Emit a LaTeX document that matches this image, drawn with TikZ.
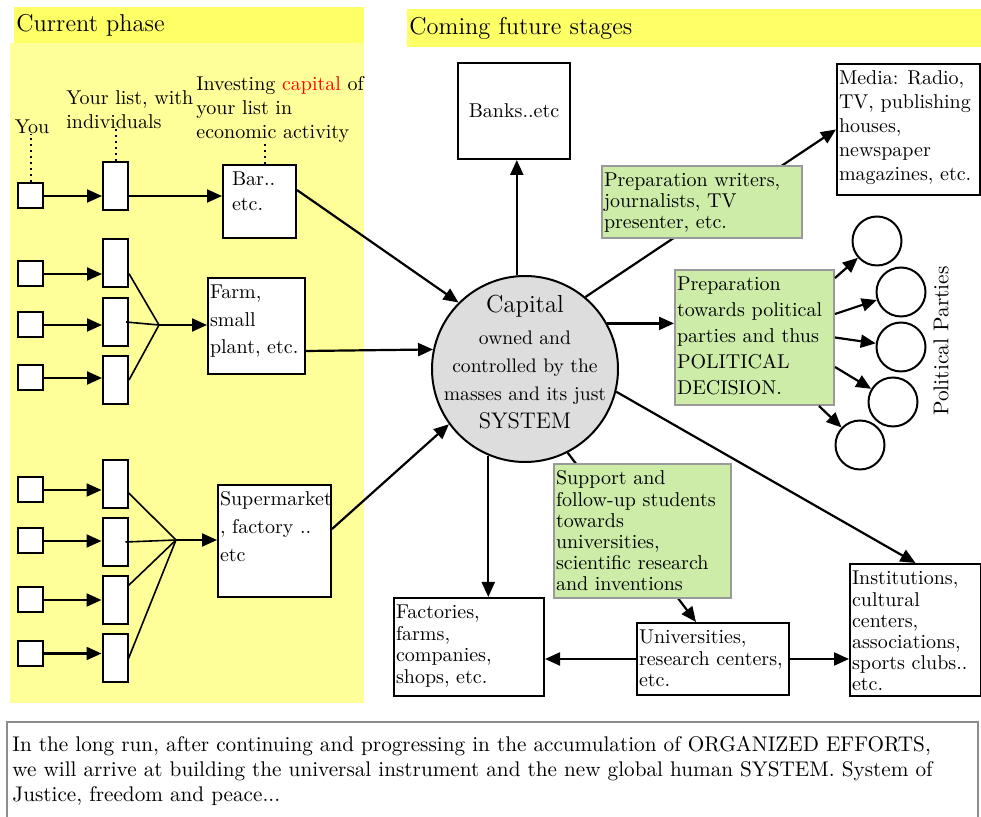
\documentclass[tikz,border=0pt]{standalone}
\usetikzlibrary{arrows.meta}

\definecolor{headyellow}{RGB}{255,255,102}
\definecolor{paleyellow}{RGB}{255,255,153}
\definecolor{capgray}{RGB}{221,221,221}
\definecolor{prepgreen}{RGB}{204,236,168}
\definecolor{prepedge}{RGB}{153,153,153}
\definecolor{notegray}{RGB}{140,140,140}

% text of a box: width, height, line distance, lines
\newcommand{\boxtext}[4]{\parbox[t][#2][t]{#1}{\fontsize{10}{#3}\selectfont\raggedright\rule{0pt}{8.5pt}#4}}

\tikzset{
  txt/.style={font=\fontsize{10}{12}\selectfont, inner sep=0pt},
  box/.style={draw, line width=1pt, fill=white, anchor=north west, inner xsep=1pt, inner ysep=2pt},
  prep/.style={box, draw=prepedge, fill=prepgreen},
  sq/.style={draw, line width=1pt, fill=white, minimum size=12.5pt, inner sep=0pt},
  slot/.style={draw, line width=1pt, fill=white, minimum width=12.5pt, minimum height=24pt, inner sep=0pt},
  party/.style={circle, draw, line width=1pt, minimum size=24.5pt, inner sep=0pt},
  arr/.style={-{Triangle[length=7.5pt,width=6.5pt]}, line width=1.1pt},
  fan/.style={line width=0.8pt},
  dotline/.style={dotted, line width=1pt},
  header/.style={fill=headyellow, anchor=north west, align=left, inner xsep=1pt, font=\fontsize{12.2}{14}\selectfont}
}

\begin{document}
\begin{tikzpicture}[x=0.5pt, y=-0.5pt]
  \useasboundingbox (0,0) rectangle (981,817);

  % phases
  \fill[paleyellow] (10,43) rectangle (364,703);
  \node[header, text width=173pt, minimum height=17pt] (nowhead) at (14,7) {Current phase};
  \node[header, text width=285pt, minimum height=19pt] (nexthead) at (407,9) {Coming future stages};

  % labels
  \node[txt] (you) at (32,127) {You};
  \node[txt, anchor=west, align=left] (list) at (66,110) {Your list, with\\individuals};
  \node[txt, anchor=west, align=left] (invest) at (196,110) {Investing \textcolor{red}{capital} of\\your list in\\economic activity};

  % current phase
  \node[sq] (s1) at (30.5,196) {};
  \node[slot] (r1) at (115.5,186) {};
  \node[box, inner xsep=4.5pt] (bar) at (222,164) {\boxtext{27.5pt}{32.5pt}{12.5pt}{Bar..\\etc.}};

  \node[sq] (s2a) at (30.5,274) {};
  \node[sq] (s2b) at (30.5,325) {};
  \node[sq] (s2c) at (30.5,378) {};
  \node[slot] (r2a) at (115.5,263.5) {};
  \node[slot] (r2b) at (115.5,322) {};
  \node[slot] (r2c) at (115.5,380) {};
  \node[box] (farm) at (207,277) {\boxtext{46.5pt}{44pt}{13.75pt}{Farm,\\small\\plant, etc.}};

  \node[sq] (s3a) at (30.5,490) {};
  \node[sq] (s3b) at (30.5,541) {};
  \node[sq] (s3c) at (30.5,600) {};
  \node[sq] (s3d) at (30.5,653.5) {};
  \node[slot] (r3a) at (115,484) {};
  \node[slot] (r3b) at (115,542) {};
  \node[slot] (r3c) at (115,600.5) {};
  \node[slot] (r3d) at (115,658.5) {};
  \node[box] (super) at (217,484) {\boxtext{54.5pt}{52pt}{14pt}{Supermarket\\, factory ..\\etc}};

  \draw[dotline] (s1.north) -- (s1.north |- you.south);
  \draw[dotline] (r1.north) -- (r1.north |- list.south);
  \draw[dotline] ([xshift=2.75pt]bar.north) -- ([xshift=2.75pt]bar.north |- invest.south);

  \draw[arr] (s1) -- (s1 -| r1.west);
  \draw[arr] (r1.east |- s1) -- (s1 -| bar.west);
  \draw[arr] (s2a) -- (s2a -| r2a.west);
  \draw[arr] (s2b) -- (s2b -| r2b.west);
  \draw[arr] (s2c) -- (s2c -| r2c.west);
  \draw[arr] (s3a) -- (s3a -| r3a.west);
  \draw[arr] (s3b) -- (s3b -| r3b.west);
  \draw[arr] (s3c) -- (s3c -| r3c.west);
  \draw[arr] (s3d) -- (s3d -| r3d.west);

  \coordinate (j2) at (159,325);
  \draw[fan] (r2a.-37) -- (j2);
  \draw[fan] ([xshift=-1.5pt]r2b.east) -- (j2);
  \draw[fan] (r2c.east) -- (j2);
  \draw[arr] (j2) -- (j2 -| farm.west);

  \coordinate (j3) at (176,540);
  \draw[fan] (r3a.-33) -- (j3);
  \draw[fan] ([xshift=-1.5pt]r3b.east) -- (j3);
  \draw[fan] (r3c.48) -- (j3);
  \draw[fan] (r3d.east) -- (j3);
  \draw[arr] (j3) -- (j3 -| super.west);

  % capital
  \node[circle, draw, line width=1pt, fill=capgray, minimum size=93pt, inner sep=0pt] (cap) at (525,369) {};
  \node[txt, align=center, font=\fontsize{9.8}{14}\selectfont] (captxt) at (525,362)
    {{\fontsize{12.3}{16}\selectfont Capital}\\[2pt]owned and\\controlled by the\\masses and its just\\{\fontsize{11.3}{14}\selectfont SYSTEM}};

  % coming stages
  \node[box, anchor=center, minimum width=56pt, minimum height=48pt, font=\fontsize{10}{12}\selectfont] (banks) at (514,111) {Banks..etc};
  \node[box] (media) at (836,63) {\boxtext{69.5pt}{61.5pt}{12pt}{Media: Radio,\\TV, publishing\\houses,\\newspaper\\magazines, etc.}};
  \node[prep] (gp) at (674,269) {\boxtext{77.5pt}{63.5pt}{13pt}{Preparation\\towards political\\parties and thus\\POLITICAL\\DECISION.}};
  \node[box] (fact) at (393,597) {\boxtext{73pt}{45pt}{10.75pt}{Factories,\\farms,\\companies,\\shops, etc.}};
  \node[box] (univ) at (636,622) {\boxtext{74pt}{32pt}{10.75pt}{Universities,\\research centers,\\etc.}};
  \node[box] (inst) at (849,563) {\boxtext{63.5pt}{62pt}{10.6pt}{Institutions,\\cultural\\centers,\\associations,\\sports clubs..\\etc.}};

  \node[party] (p1) at (877,241) {};
  \node[party] (p2) at (901,292) {};
  \node[party] (p3) at (901,347) {};
  \node[party] (p4) at (893,402) {};
  \node[party] (p5) at (860,445) {};
  \node[rotate=90, font=\fontsize{10.7}{13}\selectfont] (parties) at (941,341) {Political Parties};

  \draw[arr] (bar.17) -- (cap.135);
  \draw[arr] ([yshift=-12.5pt]farm.east) -- (cap.168);
  \draw[arr] ([yshift=6pt]super.east) -- (cap.216);
  \draw[arr] (cap.95) -- (cap.95 |- banks.south);
  \draw[arr] (cap.50) -- (media.west);
  \draw[arr] (cap.29) -- (cap.29 -| gp.west);
  \draw[arr] (cap.-14) -- (inst.north);
  \draw[arr] (cap.-113) -- (cap.-113 |- fact.north);
  \draw[arr] (cap.-63) -- ([xshift=-8.5pt]univ.north);
  \draw[arr] (univ) -- (univ -| fact.east);
  \draw[arr] (univ) -- (univ -| inst.west);

  \draw[arr] ([yshift=29.75pt]gp.east) -- (p1);
  \draw[arr] ([yshift=11.75pt]gp.east) -- (p2);
  \draw[arr] (gp.east) -- (p3);
  \draw[arr] ([yshift=-14.75pt]gp.east) -- (p4);
  \draw[arr] ([xshift=-8pt]gp.south east) -- (p5);

  \node[prep] (gw) at (601,165) {\boxtext{98pt}{32pt}{10.5pt}{Preparation writers,\\journalists, TV\\presenter, etc.}};
  \node[prep] (gs) at (553,463) {\boxtext{86.5pt}{63pt}{10.6pt}{Support and\\follow-up students\\towards\\universities,\\scientific research\\and inventions}};

  % long run
  \draw[notegray, line width=1pt] (7,817) -- (7,722) -- (978,722) -- (978,817);
  \node[anchor=north west, align=left, inner sep=0pt, font=\fontsize{10.6}{12.5}\selectfont] (note) at (12,736)
    {In the long run, after continuing and progressing in the accumulation of ORGANIZED EFFORTS,\\we will arrive at building the universal instrument and the new global human SYSTEM. System of\\Justice, freedom and peace...};
\end{tikzpicture}
\end{document}
